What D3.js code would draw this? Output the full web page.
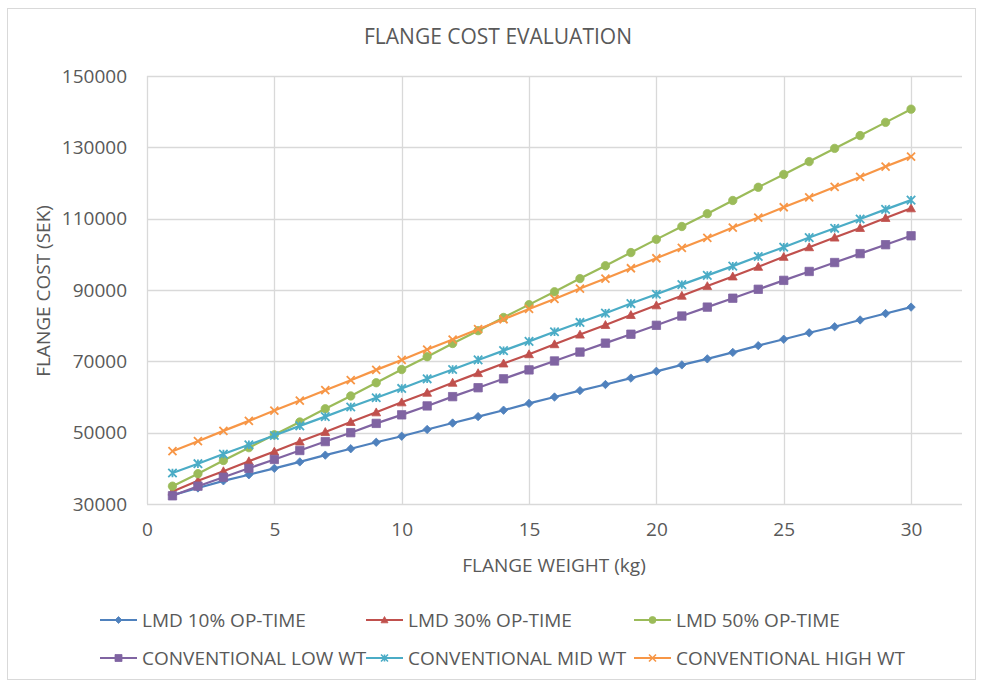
<!DOCTYPE html>
<html>
<head>
<meta charset="utf-8">
<script src="https://cdn.jsdelivr.net/npm/d3@7"></script>
<style>
  body { margin: 0; background: #fff; }
  svg text { font-family: "Open Sans", "Noto Sans", sans-serif; fill: #595959; }
</style>
</head>
<body>
<svg id="chart" width="982" height="684"></svg>
<script>
// flange weight (kg)
const weights = [1, 2, 3, 4, 5, 6, 7, 8, 9, 10, 11, 12, 13, 14, 15, 16, 17, 18, 19, 20, 21, 22, 23, 24, 25, 26, 27, 28, 29, 30];

// flange cost (SEK) per series
const lmd10 = [32500, 34500, 36500, 38200, 40000, 41800, 43700, 45500, 47300, 49000, 50900, 52700, 54500, 56300, 58200, 60000, 61800, 63500, 65300, 67200, 69000, 70700, 72500, 74400, 76200, 78000, 79700, 81600, 83400, 85200];
const lmd30 = [33500, 36500, 39200, 42000, 44700, 47500, 50200, 53000, 55700, 58500, 61200, 64000, 66700, 69400, 72000, 74800, 77500, 80200, 83000, 85700, 88400, 91100, 93800, 96500, 99300, 102000, 104700, 107400, 110200, 112900];
const lmd50 = [35000, 38500, 42200, 45800, 49400, 53000, 56700, 60300, 64000, 67700, 71300, 75000, 78600, 82300, 85900, 89500, 93200, 96800, 100500, 104200, 107800, 111400, 115100, 118800, 122400, 126000, 129700, 133300, 137000, 140700];
const convLow = [32300, 35000, 37500, 40000, 42500, 45000, 47500, 50000, 52600, 55000, 57500, 60100, 62600, 65100, 67600, 70100, 72600, 75100, 77600, 80100, 82700, 85200, 87700, 90200, 92700, 95200, 97700, 100200, 102700, 105200];
const convMid = [38700, 41300, 44000, 46600, 49200, 51900, 54500, 57200, 59800, 62400, 65100, 67700, 70400, 73000, 75600, 78300, 80900, 83500, 86200, 88800, 91500, 94100, 96700, 99400, 102000, 104700, 107300, 109900, 112600, 115200];
const convHigh = [44800, 47600, 50500, 53300, 56200, 59000, 61900, 64700, 67600, 70400, 73300, 76100, 79000, 81800, 84700, 87500, 90400, 93200, 96100, 98900, 101800, 104600, 107500, 110300, 113200, 116000, 118900, 121700, 124600, 127400];

const seriesNames = ["LMD 10% OP-TIME", "LMD 30% OP-TIME", "LMD 50% OP-TIME",
                     "CONVENTIONAL LOW WT", "CONVENTIONAL MID WT", "CONVENTIONAL HIGH WT"];
const xTicks = [0, 5, 10, 15, 20, 25, 30];
const yTicks = [30000, 50000, 70000, 90000, 110000, 130000, 150000];

const series = [
  { name: seriesNames[0], values: lmd10, color: "#4f81bd", marker: "diamond" },
  { name: seriesNames[1], values: lmd30, color: "#c0504d", marker: "triangle" },
  { name: seriesNames[2], values: lmd50, color: "#9bbb59", marker: "circle" },
  { name: seriesNames[3], values: convLow, color: "#8064a2", marker: "square" },
  { name: seriesNames[4], values: convMid, color: "#4bacc6", marker: "star" },
  { name: seriesNames[5], values: convHigh, color: "#f79646", marker: "x" }
];

const svg = d3.select("#chart");

// chart border
svg.append("rect")
  .attr("x", 7.5).attr("y", 8.5).attr("width", 968).attr("height", 671)
  .attr("fill", "#fff").attr("stroke", "#d9d9d9");

const plotLeft = 147, plotRight = 962, plotTop = 76, plotBottom = 504;
const x = d3.scaleLinear().domain([0, 32]).range([plotLeft, plotRight]);
const y = d3.scaleLinear().domain([30000, 150000]).range([plotBottom, plotTop]);

// gridlines
const grid = svg.append("g");
grid.selectAll("line.h").data(yTicks).enter().append("line")
  .attr("x1", plotLeft).attr("x2", plotRight)
  .attr("y1", d => Math.round(y(d)) + 0.5).attr("y2", d => Math.round(y(d)) + 0.5)
  .attr("stroke", "#d9d9d9").attr("stroke-width", 1.3);
grid.selectAll("line.v").data(xTicks).enter().append("line")
  .attr("y1", plotTop).attr("y2", plotBottom)
  .attr("x1", d => Math.round(x(d)) + 0.5).attr("x2", d => Math.round(x(d)) + 0.5)
  .attr("stroke", "#d9d9d9").attr("stroke-width", 1.3);

// axes (labels only, lines are the gridlines)
const xAxis = svg.append("g").attr("transform", `translate(0,${plotBottom})`)
  .call(d3.axisBottom(x).tickValues(xTicks).tickSize(0).tickPadding(22));
const yAxis = svg.append("g").attr("transform", `translate(${plotLeft},0)`)
  .call(d3.axisLeft(y).tickValues(yTicks).tickFormat(d3.format("d")).tickSize(0).tickPadding(20));
[xAxis, yAxis].forEach(a => {
  a.select(".domain").remove();
  a.selectAll("text").style("font-size", "19px").attr("fill", "#595959");
});
xAxis.selectAll("text").attr("dy", "0.5em");

// titles
svg.append("text").attr("x", 498).attr("y", 44).attr("text-anchor", "middle")
  .style("font-size", "21px").text("FLANGE COST EVALUATION");
svg.append("text").attr("x", 554).attr("y", 572).attr("text-anchor", "middle")
  .style("font-size", "19px").text("FLANGE WEIGHT (kg)");
svg.append("text").attr("transform", "translate(50,291) rotate(-90)").attr("text-anchor", "middle")
  .style("font-size", "19px").text("FLANGE COST (SEK)");

// marker paths
function markerPath(type, s) {
  switch (type) {
    case "diamond": return `M0,${-s}L${s},0L0,${s}L${-s},0Z`;
    case "triangle": return `M0,${-s}L${s},${s * 0.8}L${-s},${s * 0.8}Z`;
    case "circle": return d3.symbol(d3.symbolCircle, Math.PI * s * s)();
    case "square": return `M${-s},${-s}H${s}V${s}H${-s}Z`;
    case "star": return `M${-s},${-s}L${s},${s}M${-s},${s}L${s},${-s}M0,${-s}V${s}`;
    case "x": return `M${-s},${-s}L${s},${s}M${-s},${s}L${s},${-s}`;
  }
}
const stroked = m => m === "star" || m === "x";
const sizes = { diamond: 4.2, triangle: 4.4, circle: 4.2, square: 4.2, star: 4.2, x: 4 };

const line = d3.line().x((d, i) => x(weights[i])).y(d => y(d));

const plot = svg.append("g");
series.forEach(s => {
  const g = plot.append("g");
  g.append("path").datum(s.values).attr("d", line)
    .attr("fill", "none").attr("stroke", s.color).attr("stroke-width", 2.2);
  g.selectAll("path.m").data(s.values).enter().append("path")
    .attr("class", "m")
    .attr("transform", (d, i) => `translate(${x(weights[i])},${y(d)})`)
    .attr("d", markerPath(s.marker, sizes[s.marker]))
    .attr("fill", stroked(s.marker) ? "none" : s.color)
    .attr("stroke", s.color).attr("stroke-width", stroked(s.marker) ? 1.8 : 0.8);
});

// legend
const legendPos = [[100, 620], [366, 620], [634, 620], [100, 658], [366, 658], [634, 658]];
series.forEach((s, i) => {
  const [lx, ly] = legendPos[i];
  const g = svg.append("g").attr("transform", `translate(${lx},${ly})`);
  g.append("line").attr("x1", 0).attr("x2", 37).attr("y1", 0).attr("y2", 0)
    .attr("stroke", s.color).attr("stroke-width", 2.2);
  g.append("path").attr("transform", "translate(18.5,0)")
    .attr("d", markerPath(s.marker, 3.5))
    .attr("fill", stroked(s.marker) ? "none" : s.color)
    .attr("stroke", s.color).attr("stroke-width", stroked(s.marker) ? 1.6 : 0.8);
  g.append("text").attr("x", 42).attr("y", 0).attr("dy", "0.35em")
    .style("font-size", "19px").text(s.name);
});
</script>
</body>
</html>
